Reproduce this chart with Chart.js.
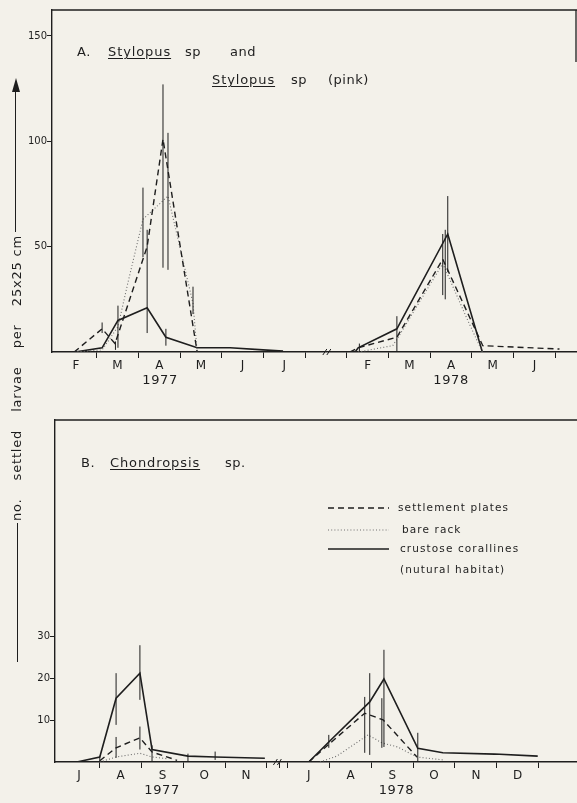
<!DOCTYPE html>
<html>
<head>
<meta charset="utf-8">
<script src="https://cdn.jsdelivr.net/npm/chart.js@4.4.1/dist/chart.umd.min.js"></script>
<style>
  body { margin: 0; width: 577px; height: 803px; overflow: hidden; position: relative;
         background: #f3f1ea; font-family: "DejaVu Sans", sans-serif; color: #1e1e1e; }
  canvas { position: absolute; left: 0; }
  .w { position: absolute; font-size: 13px; letter-spacing: 0.5px; white-space: nowrap; line-height: 16px; }
  .u { text-decoration: underline; text-underline-offset: 2px; letter-spacing: 0.9px; }
  .ylab { position: absolute; left: -126px; top: 370px; width: 286px; height: 16px;
          transform: rotate(-90deg); display: flex; justify-content: space-between;
          font-size: 13px; letter-spacing: 0.8px; line-height: 16px; }
  .vline { position: absolute; width: 0; border-left: 1.5px solid #1e1e1e; }
  .head { position: absolute; left: 12px; top: 78px; width: 0; height: 0;
          border-left: 4px solid transparent; border-right: 4px solid transparent;
          border-bottom: 14px solid #1e1e1e; }
</style>
</head>
<body>
<canvas id="chartA" width="577" height="400" style="top:0"></canvas>
<canvas id="chartB" width="577" height="403" style="top:400px"></canvas>

<span class="w" style="left:77px;top:44px">A.</span>
<span class="w u" style="left:108px;top:44px">Stylopus</span>
<span class="w" style="left:185px;top:44px">sp</span>
<span class="w" style="left:230px;top:44px">and</span>
<span class="w u" style="left:212px;top:72px">Stylopus</span>
<span class="w" style="left:291px;top:72px">sp</span>
<span class="w" style="left:328px;top:72px">(pink)</span>
<span class="w" style="left:81px;top:455px">B.</span>
<span class="w u" style="left:110px;top:455px">Chondropsis</span>
<span class="w" style="left:225px;top:455px">sp.</span>

<div class="head"></div>
<div class="vline" style="left:15px;top:90px;height:142px"></div>
<div class="vline" style="left:17px;top:523px;height:139px"></div>
<div class="ylab"><span>no.</span><span>settled</span><span>larvae</span><span>per</span><span>25x25 cm</span></div>

<script>
// ---- panel A : Stylopus (x in months, 1977 Feb start = 1, 1978 Feb start = 8)
const aMonthLabels = ['F', 'M', 'A', 'M', 'J', 'J', 'F', 'M', 'A', 'M', 'J'];
const aMonthCenters = [1.5, 2.5, 3.5, 4.5, 5.5, 6.5, 8.5, 9.5, 10.5, 11.5, 12.5];
const aMonthEdges = [2, 3, 4, 5, 6, 7, 8, 9, 10, 11, 12, 13];
const aYTicks = [50, 100, 150];
const aYears = ['1977', '1978'];
const aYearAt = [3.52, 10.5];

const aPlates77X = [1.46, 2.13, 2.44, 3.21, 3.59, 4.41];
const aPlates77Y = [0, 11, 4, 50, 101, 0];
const aRack77X = [1.46, 2.13, 2.51, 2.75, 3.11, 3.71, 4.31, 4.41];
const aRack77Y = [0, 1, 12, 33, 63, 74, 23, 0];
const aCoral77X = [1.48, 2.13, 2.51, 3.21, 3.66, 4.41, 5.2, 5.99, 6.47];
const aCoral77Y = [0, 2, 15, 21, 7, 2, 2, 1, 0.5];

const aPlates78X = [8.07, 8.27, 9.2, 10.3, 11.12, 11.26, 13.1];
const aPlates78Y = [0, 2, 7, 44, 9, 3, 1.4];
const aRack78X = [8.27, 9.1, 9.2, 10.3, 10.9, 11.25];
const aRack78Y = [0, 3, 6, 42, 15, 0];
const aCoral78X = [8.2, 8.27, 9.2, 10.42, 11.25];
const aCoral78Y = [0, 2, 11, 56, 0];

const aErrX = [2.13, 2.45, 2.51, 3.11, 3.21, 3.59, 3.66, 3.71, 4.31, 8.3, 9.2, 10.3, 10.36, 10.42];
const aErrLo = [9, 1, 2, 45, 9, 40, 3, 39, 18, 0, 0, 27, 25, 38];
const aErrHi = [14, 5, 22, 78, 58, 127, 11, 104, 31, 4, 17, 56, 58, 74];

// ---- panel B : Chondropsis (x in months, 1977 Jul start = 0, 1978 Jul start = 5.5)
const bMonthLabels = ['J', 'A', 'S', 'O', 'N', 'J', 'A', 'S', 'O', 'N', 'D'];
const bMonthCenters = [0.5, 1.5, 2.5, 3.5, 4.5, 6, 7, 8, 9, 10, 11];
const bMonthEdges = [1, 2, 3, 4, 5, 5.3, 5.5, 6.5, 7.5, 8.5, 9.5, 10.5, 11.5];
const bYTicks = [10, 20, 30];
const bYears = ['1977', '1978'];
const bYearAt = [2.49, 8.1];

const bPlates77X = [1.0, 1.39, 1.96, 2.25, 2.85];
const bPlates77Y = [0.3, 3.4, 5.8, 2.4, 0.4];
const bRack77X = [1.0, 1.39, 1.96, 2.25, 2.6];
const bRack77Y = [0, 1.2, 2.1, 1.2, 0.8];
const bCoral77X = [0.45, 1.0, 1.39, 1.96, 2.25, 3.11, 3.76, 4.95];
const bCoral77Y = [0, 1.2, 15.3, 21.3, 3, 1.4, 1.2, 0.9];

const bPlates78X = [6.0, 6.51, 7.34, 7.78, 8.59];
const bPlates78Y = [0, 4.5, 11.7, 10.1, 1.2];
const bRack78X = [6.27, 6.67, 7.42, 7.75, 8.13, 8.59, 9.21];
const bRack78Y = [0, 1.4, 6.5, 4.6, 3.6, 1.2, 0.5];
const bCoral78X = [6.0, 6.48, 7.46, 7.8, 8.61, 9.21, 10.45, 11.48];
const bCoral78Y = [0, 4.8, 14.4, 19.9, 3.3, 2.2, 1.9, 1.4];

const bErrX = [1.0, 1.39, 1.39, 1.96, 1.96, 2.25, 3.11, 3.76, 6.48, 7.34, 7.46, 7.75, 7.8, 8.61];
const bErrLo = [0, 8.9, 1, 14.9, 3, 0, 0, 0.5, 3.4, 2.2, 1.7, 3.4, 3.6, 0];
const bErrHi = [1.5, 21.3, 6, 28, 8.5, 4, 2, 2.5, 6.5, 15.6, 21.3, 15.3, 26.9, 7];

const legendLabels = ['settlement plates', 'bare rack', 'crustose corallines', '(nutural habitat)'];

const INK = '#1e1e1e';
const STYLES = {
  plates: { borderColor: INK, borderWidth: 1.4, borderDash: [6, 4] },
  rack:   { borderColor: '#6e6e6e', borderWidth: 1.1, borderDash: [1, 2.2] },
  coral:  { borderColor: INK, borderWidth: 1.6, borderDash: [] }
};

function series(xs, ys, kind) {
  return Object.assign({
    data: xs.map((x, i) => ({ x: x, y: ys[i] })),
    pointRadius: 0, tension: 0, fill: false
  }, STYLES[kind]);
}

// error bars, break marks, year labels, box outline, legend
const decorations = {
  id: 'decorations',
  afterDatasetsDraw(chart, args, opts) {
    const { ctx, chartArea: a, scales: { x, y } } = chart;
    ctx.save();
    ctx.strokeStyle = INK;
    ctx.lineWidth = 1;
    opts.errX.forEach((v, i) => {
      const px = x.getPixelForValue(v);
      ctx.beginPath();
      ctx.moveTo(px, y.getPixelForValue(opts.errLo[i]));
      ctx.lineTo(px, y.getPixelForValue(opts.errHi[i]));
      ctx.stroke();
    });
    // box outline
    ctx.lineWidth = 1.3;
    ctx.beginPath();
    ctx.moveTo(a.left, a.top);
    ctx.lineTo(a.right, a.top);
    ctx.stroke();
    if (opts.rightEdge) {
      ctx.beginPath();
      ctx.moveTo(a.right - 1, a.top);
      ctx.lineTo(a.right - 1, a.top + opts.rightEdge);
      ctx.stroke();
    }
    // axis break "//"
    ctx.lineWidth = 1;
    opts.breaks.forEach(v => {
      const px = x.getPixelForValue(v);
      [-2, 2].forEach(d => {
        ctx.beginPath();
        ctx.moveTo(px + d - 2, a.bottom + 3);
        ctx.lineTo(px + d + 2, a.bottom - 3);
        ctx.stroke();
      });
    });
    // years
    ctx.fillStyle = INK;
    ctx.font = '13px "DejaVu Sans"';
    ctx.letterSpacing = '0.6px';
    ctx.textAlign = 'center';
    ctx.textBaseline = 'middle';
    opts.years.forEach((t, i) => ctx.fillText(t, x.getPixelForValue(opts.yearAt[i]), a.bottom + opts.yearDy));
    // legend
    if (opts.legend) {
      const L = opts.legend;
      ['plates', 'rack', 'coral'].forEach((k, i) => {
        const s = STYLES[k];
        ctx.strokeStyle = s.borderColor;
        ctx.lineWidth = s.borderWidth;
        ctx.setLineDash(s.borderDash);
        ctx.beginPath();
        ctx.moveTo(L.x0, L.rows[i]);
        ctx.lineTo(L.x1, L.rows[i]);
        ctx.stroke();
      });
      ctx.setLineDash([]);
      ctx.font = '10.5px "DejaVu Sans"';
      ctx.letterSpacing = '1.1px';
      ctx.textAlign = 'left';
      legendLabels.forEach((t, i) => ctx.fillText(t, L.tx[i], L.rows[i]));
    }
    ctx.restore();
  }
};

function makeChart(id, cfg) {
  return new Chart(document.getElementById(id), {
    type: 'line',
    data: { datasets: cfg.sets },
    plugins: [decorations],
    options: {
      responsive: false, animation: false, devicePixelRatio: 1,
      layout: { padding: { top: cfg.top, left: 0, right: 0, bottom: 0 } },
      plugins: { legend: { display: false }, tooltip: { enabled: false }, decorations: cfg.deco },
      scales: {
        x: {
          type: 'linear', min: cfg.xMin, max: cfg.xMax, bounds: 'data',
          afterBuildTicks: s => { s.ticks = cfg.edges.concat(cfg.centers).sort((p, q) => p - q).map(v => ({ value: v })); },
          afterFit: s => { s.height = cfg.xAxisH; },
          border: { color: INK, width: 1.4 },
          grid: {
            drawOnChartArea: false, tickLength: 6, tickWidth: 1,
            tickColor: c => (c.tick && cfg.edges.includes(c.tick.value)) ? INK : 'rgba(0,0,0,0)'
          },
          ticks: {
            autoSkip: false, maxRotation: 0, padding: 1, color: INK,
            font: { family: 'DejaVu Sans', size: 12 },
            callback: v => { const i = cfg.centers.indexOf(v); return i >= 0 ? cfg.labels[i] : ''; }
          }
        },
        y: {
          min: 0, max: cfg.yMax,
          afterBuildTicks: s => { s.ticks = cfg.yTicks.map(v => ({ value: v })); },
          afterFit: s => { s.width = cfg.yAxisW; },
          border: { color: INK, width: 1.4 },
          grid: { drawOnChartArea: false, tickLength: 5, tickColor: INK },
          ticks: { padding: 0, color: INK, font: { family: 'DejaVu Sans', size: 10 } }
        }
      }
    }
  });
}

makeChart('chartA', {
  top: 10, xAxisH: 48, yAxisW: 52, xMin: 0.928, xMax: 13.52, yMax: 162.3,
  edges: aMonthEdges, centers: aMonthCenters, labels: aMonthLabels, yTicks: aYTicks,
  sets: [
    series(aPlates77X, aPlates77Y, 'plates'), series(aRack77X, aRack77Y, 'rack'), series(aCoral77X, aCoral77Y, 'coral'),
    series(aPlates78X, aPlates78Y, 'plates'), series(aRack78X, aRack78Y, 'rack'), series(aCoral78X, aCoral78Y, 'coral')
  ],
  deco: { errX: aErrX, errLo: aErrLo, errHi: aErrHi, breaks: [7.52], years: aYears, yearAt: aYearAt, yearDy: 29, rightEdge: 52 }
});

makeChart('chartB', {
  top: 20, xAxisH: 41, yAxisW: 55, xMin: -0.072, xMax: 12.42, yMax: 82.0,
  edges: bMonthEdges, centers: bMonthCenters, labels: bMonthLabels, yTicks: bYTicks,
  sets: [
    series(bPlates77X, bPlates77Y, 'plates'), series(bRack77X, bRack77Y, 'rack'), series(bCoral77X, bCoral77Y, 'coral'),
    series(bPlates78X, bPlates78Y, 'plates'), series(bRack78X, bRack78Y, 'rack'), series(bCoral78X, bCoral78Y, 'coral')
  ],
  deco: {
    errX: bErrX, errLo: bErrLo, errHi: bErrHi, breaks: [5.25], years: bYears, yearAt: bYearAt, yearDy: 29,
    legend: { x0: 328, x1: 389, rows: [108, 130, 149, 170], tx: [398, 402, 400, 400] }
  }
});
</script>
</body>
</html>
